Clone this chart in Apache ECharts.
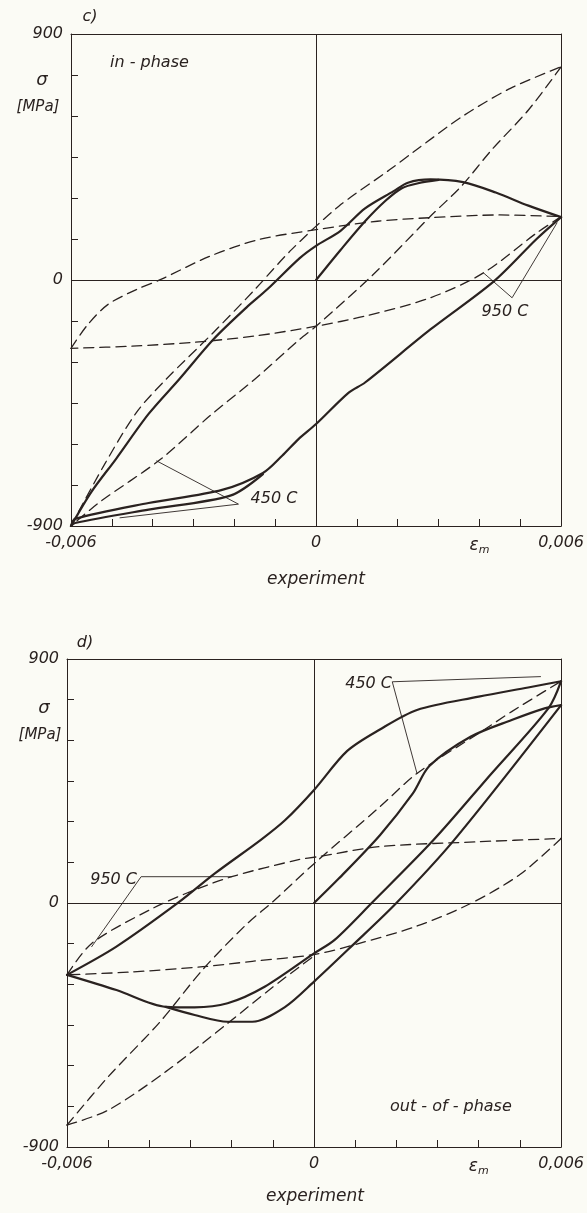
<!DOCTYPE html>
<html>
<head>
<meta charset="utf-8">
<script src="https://cdn.jsdelivr.net/npm/echarts@6/dist/echarts.min.js"></script>
<style>
html,body{margin:0;padding:0;background:#fbfbf5;}
#c{width:587px;height:1213px;}
</style>
</head>
<body>
<div id="c"></div>
<script>
// ---------- tick labels ----------
var xTickLabels = {"-6": "-0,006", "0": "0", "4": "{e|\u03b5}{m|m}", "6": "0,006"};
var yTickLabels = {"900": "900", "0": "0", "-900": "-900"};

// ---------- panel c) in-phase : experiment (solid) ----------
var cUpper = [[-0.006,-900],[-0.0055,-775],[-0.0049,-655],[-0.0041,-490],[-0.00335,-363],[-0.0025,-215],[-0.0017,-100],[-0.0012,-35],[-0.0004,80],[0,125],[0.0006,180],[0.0012,262],[0.0019,325],[0.00225,356],[0.0028,368],[0.0036,358],[0.0044,320],[0.0052,272],[0.006,230]];
var cInitial = [[0,0],[0.0006,110],[0.0012,215],[0.0017,290],[0.0021,336],[0.0025,354],[0.003,366]];
var cLower = [[0.006,230],[0.0054,150],[0.00436,-4],[0.0028,-181],[0.0012,-375],[0.0008,-412],[0,-527],[-0.00043,-582],[-0.00083,-643],[-0.0013,-706],[-0.0023,-768],[-0.0041,-816],[-0.0059,-874],[-0.006,-900]];
var cLower2 = [[-0.0013,-710],[-0.0021,-789],[-0.0041,-840],[-0.0059,-889],[-0.006,-900]];
// ---------- panel c) dashed ----------
var c450Up = [[-0.006,-900],[-0.0052,-680],[-0.0044,-485],[-0.00367,-363],[-0.0025,-190],[-0.0015,-35],[-0.0006,111],[0.00055,269],[0.0018,403],[0.0024,470],[0.0036,600],[0.00477,702],[0.006,780]];
var c450Down = [[0.006,780],[0.0052,622],[0.0043,476],[0.00355,342],[0.0028,233],[0.0014,20],[0,-169],[-0.0004,-217],[-0.0015,-363],[-0.0026,-497],[-0.0038,-655],[-0.0053,-813],[-0.006,-900]];
var c950Up = [[-0.006,-250],[-0.0056,-165],[-0.0051,-90],[-0.0044,-35],[-0.0038,2],[-0.0026,87],[-0.0014,148],[0,184],[0.0015,215],[0.0028,228],[0.0045,238],[0.006,232]];
var c950Down = [[0.006,232],[0.0054,172],[0.0041,26],[0.0028,-65],[0.0012,-132],[0,-169],[-0.0015,-205],[-0.003,-228],[-0.0045,-242],[-0.006,-250]];
var cLead950 = [[0.0041,26],[0.0048,-65],[0.0059,209]];
var cLead450 = [[-0.0039,-662],[-0.0019,-820],[-0.0048,-870]];

// ---------- panel d) out-of-phase : experiment (solid) ----------
var dInitial = [[0,0],[0.0006,90],[0.0016,250],[0.0024,404],[0.0028,505],[0.0038,613],[0.0048,675],[0.0056,718],[0.006,730]];
var dUpper = [[-0.006,-265],[-0.0048,-161],[-0.0033,1],[-0.0024,110],[-0.0013,232],[-0.0007,306],[0,417],[0.0008,560],[0.0016,640],[0.0025,712],[0.004,761],[0.0052,795],[0.006,818]];
var dDown1 = [[0.006,818],[0.0057,720],[0.0043,476],[0.0029,232],[0.0014,0],[0.0005,-136],[0,-186],[-0.0012,-309],[-0.0021,-370],[-0.0029,-385],[-0.0036,-383],[-0.0048,-321],[-0.006,-265]];
var dDown2 = [[0.006,730],[0.0034,232],[0.002,0],[0.0009,-161],[0,-290],[-0.0007,-383],[-0.0015,-438],[-0.0021,-438],[-0.0029,-413],[-0.0036,-383]];
// ---------- panel d) dashed ----------
var d450Up = [[-0.006,-819],[-0.005,-641],[-0.00375,-440],[-0.0027,-245],[-0.00165,-80],[-0.001,5],[0,145],[0.0016,355],[0.0025,478],[0.004,626],[0.0048,706],[0.006,818]];
var d450Low = [[-0.006,-819],[-0.005,-764],[-0.0036,-622],[-0.0021,-444],[-0.001,-310],[0,-195]];
var d950Up = [[-0.006,-265],[-0.0054,-149],[-0.004,-26],[-0.0031,36],[-0.002,97],[-0.0004,159],[0.0001,171],[0.0016,208],[0.004,226],[0.006,238]];
var d950Low = [[0.006,238],[0.005,105],[0.0038,-2],[0.0025,-85],[0.0011,-149],[0,-190],[-0.0015,-215],[-0.0027,-235],[-0.0045,-255],[-0.006,-265]];
var dLead450 = [[0.0055,835],[0.0019,816],[0.0025,478]];
var dLead950 = [[-0.002,97],[-0.0042,97],[-0.0054,-161]];

var INK = '#2a2220';
var FONT = 'DejaVu Sans';

function xAx(g){
  return [{
    gridIndex:g, type:'value', min:-0.006, max:0.006, interval:0.001,
    axisLine:{show:true, onZero:false, lineStyle:{color:INK, width:1}},
    axisTick:{show:true, inside:true, length:7, lineStyle:{color:INK, width:1}},
    splitLine:{show:false},
    axisLabel:{show:true, showMinLabel:true, showMaxLabel:true, margin:9, color:INK,
      fontFamily:FONT, fontStyle:'italic', fontSize:16,
      formatter:function(v){ var k=String(Math.round(v*1000)); return xTickLabels[k]||''; },
      rich:{e:{fontFamily:FONT, fontStyle:'italic', fontSize:17, color:INK},
            m:{fontFamily:FONT, fontStyle:'italic', fontSize:11, color:INK, padding:[10,0,0,0]}}}
  },{
    gridIndex:g, type:'value', position:'top', min:-0.006, max:0.006,
    axisLine:{show:true, onZero:false, lineStyle:{color:INK, width:1}},
    axisTick:{show:false}, axisLabel:{show:false}, splitLine:{show:false}
  }];
}
function yAx(g){
  return [{
    gridIndex:g, type:'value', min:-900, max:900, interval:150,
    axisLine:{show:true, onZero:false, lineStyle:{color:INK, width:1}},
    axisTick:{show:true, inside:true, length:7, lineStyle:{color:INK, width:1}},
    splitLine:{show:false},
    axisLabel:{show:true, showMinLabel:true, showMaxLabel:true, margin:8, color:INK,
      fontFamily:FONT, fontStyle:'italic', fontSize:16,
      formatter:function(v){ return yTickLabels[String(Math.round(v))]||''; }}
  },{
    gridIndex:g, type:'value', position:'right', min:-900, max:900,
    axisLine:{show:true, onZero:false, lineStyle:{color:INK, width:1}},
    axisTick:{show:false}, axisLabel:{show:false}, splitLine:{show:false}
  }];
}
function ser(data, g, kind){
  var s = {type:'line', xAxisIndex:g*2, yAxisIndex:g*2, data:data, symbol:'none', showSymbol:false,
    smooth:0.3, silent:true, animation:false,
    lineStyle:{color:INK, width:2.2, type:'solid', cap:'round', join:'round'}};
  if(kind==='dash'){ s.lineStyle.width=1.3; s.lineStyle.type=[10,6]; s.smooth=0.3; }
  if(kind==='lead'){ s.lineStyle.width=0.9; s.smooth=false; }
  return s;
}
function zero(g){
  return {type:'line', xAxisIndex:g*2, yAxisIndex:g*2, data:[], symbol:'none', silent:true, animation:false,
    markLine:{silent:true, symbol:['none','none'], animation:false, label:{show:false},
      lineStyle:{color:INK, width:1, type:'solid'},
      data:[{xAxis:0},{yAxis:0}]}};
}
function txt(x,y,s,size,align){
  return {type:'text', x:x, y:y, silent:true,
    style:{text:s, fill:INK, font:'italic '+(size||16)+'px "'+FONT+'"', textAlign:align||'center', textVerticalAlign:'middle'}};
}

var chart = echarts.init(document.getElementById('c'), null, {renderer:'canvas'});
var xs = xAx(0).concat(xAx(1));
var ys = yAx(0).concat(yAx(1));
chart.setOption({
  backgroundColor:'#fbfbf5',
  animation:false,
  grid:[{left:71, top:34, width:493, height:492},
        {left:67, top:659, width:496, height:488}],
  xAxis:xs, yAxis:ys,
  series:[
    zero(0),
    ser(cUpper,0), ser(cInitial,0), ser(cLower,0), ser(cLower2,0),
    ser(c450Up,0,'dash'), ser(c450Down,0,'dash'), ser(c950Up,0,'dash'), ser(c950Down,0,'dash'),
    ser(cLead950,0,'lead'), ser(cLead450,0,'lead'),
    zero(1),
    ser(dInitial,1), ser(dUpper,1), ser(dDown1,1), ser(dDown2,1),
    ser(d450Up,1,'dash'), ser(d450Low,1,'dash'), ser(d950Up,1,'dash'), ser(d950Low,1,'dash'),
    ser(dLead450,1,'lead'), ser(dLead950,1,'lead')
  ],
  graphic:[
    txt(90,17,'c)',16),
    txt(42,80,'\u03c3',18), txt(38,107,'[MPa]',15),
    txt(110,63,'in - phase',16,'left'),
    txt(316,580,'experiment',17),
    txt(505,312,'950 C',16),
    txt(274,499,'450 C',16),
    txt(85,643,'d)',16),
    txt(44,708,'\u03c3',18), txt(40,735,'[MPa]',15),
    txt(390,1107,'out - of - phase',16,'left'),
    txt(392,684,'450 C',16,'right'),
    txt(137,880,'950 C',16,'right'),
    txt(315,1197,'experiment',17)
  ]
});
</script>
</body>
</html>
